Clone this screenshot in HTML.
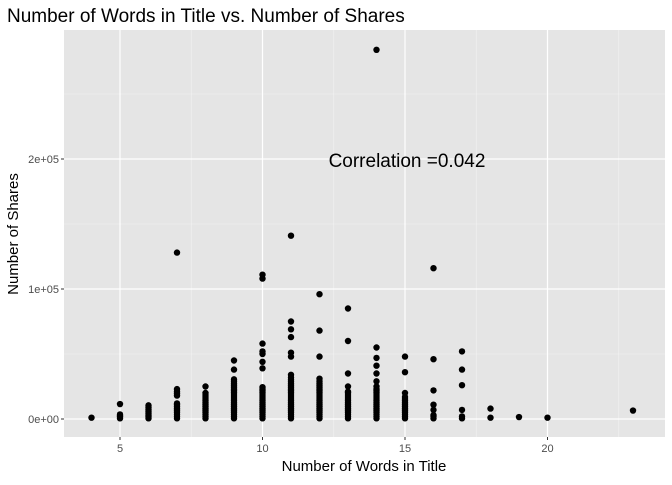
<!DOCTYPE html>
<html><head><meta charset="utf-8"><style>
body{margin:0;background:#fff;font-family:"Liberation Sans",sans-serif}
svg text{font-family:"Liberation Sans",sans-serif}
</style></head><body>
<svg id="chart" width="672" height="480">
<text x="7" y="22" font-size="19" fill="#000">Number of Words in Title vs. Number of Shares</text>
<rect x="64" y="30" width="601" height="407" fill="#e5e5e5"/>
<g id="grid"></g><g id="pts"></g><g id="axes"></g>
<text x="407" y="167" font-size="19" text-anchor="middle" fill="#000">Correlation =0.042</text>
<text x="364" y="471" font-size="15" text-anchor="middle">Number of Words in Title</text>
<text transform="translate(18,234) rotate(-90)" font-size="15" text-anchor="middle">Number of Shares</text>
</svg>
<script>
const xTicks=[5,10,15,20];
const xMinor=[7.5,12.5,17.5,22.5];
const yTicks=[0,100000,200000];
const yTickLabels=["0e+00","1e+05","2e+05"];
const yMinor=[50000,150000,250000];
const wordCounts=[4,5,6,7,8,9,10,11,12,13,14,15,16,17,18,19,20,23];
const sharesByWords=[
[1000],
[500,1500,2500,3500,11500],
[500,1500,3000,4500,6000,7500,9000,10500],
[500,2000,3500,5000,6500,8000,9500,11000,12000,18000,19500,21000,23000,128000],
[500,2000,3500,5000,6500,8000,9500,11000,12500,14000,15500,17000,18500,20000,25000],
[500,2000,3500,5000,6500,8000,9500,11000,12500,14000,15500,17000,18500,20000,21500,23000,24500,26000,27500,29000,30500,38000,45000],
[500,2000,3500,5000,6500,8000,9500,11000,12500,14000,15500,17000,18500,20000,21500,23000,24500,39000,44000,50000,52000,58000,108000,111000],
[500,2000,3500,5000,6500,8000,9500,11000,12500,14000,15500,17000,18500,20000,21500,23000,24500,26000,27500,29000,30500,32000,34000,48000,51000,63000,69000,75000,141000],
[500,2000,3500,5000,6500,8000,9500,11000,12500,14000,15500,17000,18500,20000,21500,23000,24500,26000,27500,29000,31000,48000,68000,96000],
[500,2000,3500,5000,6500,8000,9500,11000,12500,14000,15500,17000,18500,20000,21000,25000,35000,60000,85000],
[500,2000,3500,5000,6500,8000,9500,11000,12500,14000,15500,17000,18500,20000,21500,23000,25000,29000,35000,41000,47000,55000,284000],
[500,2000,3500,5000,6500,8000,9500,11000,12500,14000,15500,17000,20000,36000,48000],
[500,2000,3000,7000,11000,22000,46000,116000],
[500,2000,7000,26000,38000,52000],
[1000,8000],
[1500],
[1000],
[6500]];
const L=64,R=665,T=30,B=437;
const xs=v=>120+(v-5)*(405-120)/10;
const ys=v=>419-v*130/100000;
const ns="http://www.w3.org/2000/svg";
function mk(t,a,p){const e=document.createElementNS(ns,t);for(const k in a)e.setAttribute(k,a[k]);p.appendChild(e);return e;}
const g=document.getElementById('grid'),pg=document.getElementById('pts'),ax=document.getElementById('axes');
yMinor.forEach(v=>{const e=mk('line',{x1:L,x2:R,y1:ys(v),y2:ys(v),stroke:'#f2f2f2','stroke-width':0.6},g);

});
xMinor.forEach(v=>{const e=mk('line',{x1:xs(v),x2:xs(v),y1:T,y2:B,stroke:'#f2f2f2','stroke-width':0.6},g);

});
yTicks.forEach((v,i)=>{const e=mk('line',{x1:L,x2:R,y1:ys(v),y2:ys(v),stroke:'#fff','stroke-width':1.2},g);


const t=mk('line',{x1:L-3,x2:L,y1:ys(v),y2:ys(v),stroke:'#333','stroke-width':1},ax);


const l=mk('text',{x:L-5,y:ys(v)+4,'font-size':11,'text-anchor':'end',fill:'#4d4d4d'},ax);l.textContent=yTickLabels[i];

});
xTicks.forEach(v=>{const e=mk('line',{x1:xs(v),x2:xs(v),y1:T,y2:B,stroke:'#fff','stroke-width':1.2},g);


const t=mk('line',{x1:xs(v),x2:xs(v),y1:B,y2:B+3,stroke:'#333','stroke-width':1},ax);


const l=mk('text',{x:xs(v),y:B+15,'font-size':11,'text-anchor':'middle',fill:'#4d4d4d'},ax);l.textContent=v;

});
wordCounts.forEach((w,i)=>{sharesByWords[i].forEach(s=>{
const c=mk('circle',{cx:xs(w),cy:ys(s),r:3.2,fill:'#000'},pg);

});});
</script>
</body></html>
